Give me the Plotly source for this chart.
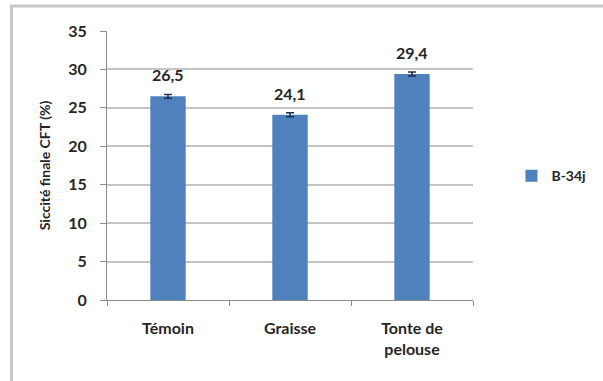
import plotly.graph_objects as go

categories = ["Témoin", "Graisse", "Tonte de<br>pelouse"]
values = [26.5, 24.1, 29.4]
errors = [0.25, 0.25, 0.25]
series_name = "B-34j"
y_ticks = [0, 5, 10, 15, 20, 25, 30, 35]

bar_color = "#4F81BD"
grid_color = "#C4C4C4"
font_family = "Lato, 'Open Sans', sans-serif"
text_color = "#262626"

fig = go.Figure()
fig.add_trace(go.Bar(
    x=categories,
    y=values,
    name=series_name,
    marker=dict(color=bar_color, line=dict(width=0)),
    error_y=dict(type="data", array=errors, visible=True,
                 color="#1F2F4F", thickness=1.5, width=4),
    showlegend=True,
))

# value labels above each bar, decimal comma
for c, v in zip(categories, values):
    fig.add_annotation(x=c, y=v, text=f"{v:.1f}".replace(".", ","),
                       showarrow=False, yanchor="bottom", yshift=10,
                       font=dict(family=font_family, size=16, color=text_color,
                                 weight="bold"))

# outer chart frame
fig.add_shape(type="rect", xref="paper", yref="paper",
              x0=-0.261, y0=-0.5, x1=1.5, y1=1.093,
              line=dict(color="#C8C8C8", width=3), fillcolor="rgba(0,0,0,0)",
              layer="below")

fig.update_layout(
    width=603, height=381,
    margin=dict(l=107, r=109, t=31, b=81),
    paper_bgcolor="white",
    plot_bgcolor="white",
    bargap=0.71,
    font=dict(family=font_family, size=14, color=text_color),
    legend=dict(x=1.105, y=0.46, xanchor="left", yanchor="middle",
                itemwidth=30,
                font=dict(family=font_family, size=14, color=text_color,
                          weight="bold"),
                bgcolor="rgba(0,0,0,0)"),
    xaxis=dict(
        showline=True, linecolor="#8C8C8C", linewidth=1,
        ticks="outside", tickson="boundaries", ticklen=5, tickcolor="#8C8C8C",
        tickfont=dict(family=font_family, size=16, color=text_color,
                      weight="bold"),
        ticklabelstandoff=14,
        showgrid=False,
    ),
    yaxis=dict(
        range=[0, 35], tickvals=y_ticks,
        showline=True, linecolor="#8C8C8C", linewidth=1,
        ticks="outside", ticklen=6, tickcolor="#8C8C8C",
        gridcolor=grid_color, gridwidth=1.5,
        tickfont=dict(family=font_family, size=16, color=text_color,
                      weight="bold"),
        ticklabelstandoff=10,
        title=dict(text="Siccité finale CFT (%)",
                   font=dict(family=font_family, size=14, color=text_color,
                             weight="bold"),
                   standoff=14),
        zeroline=False,
    ),
)

fig.write_html("out.html")
